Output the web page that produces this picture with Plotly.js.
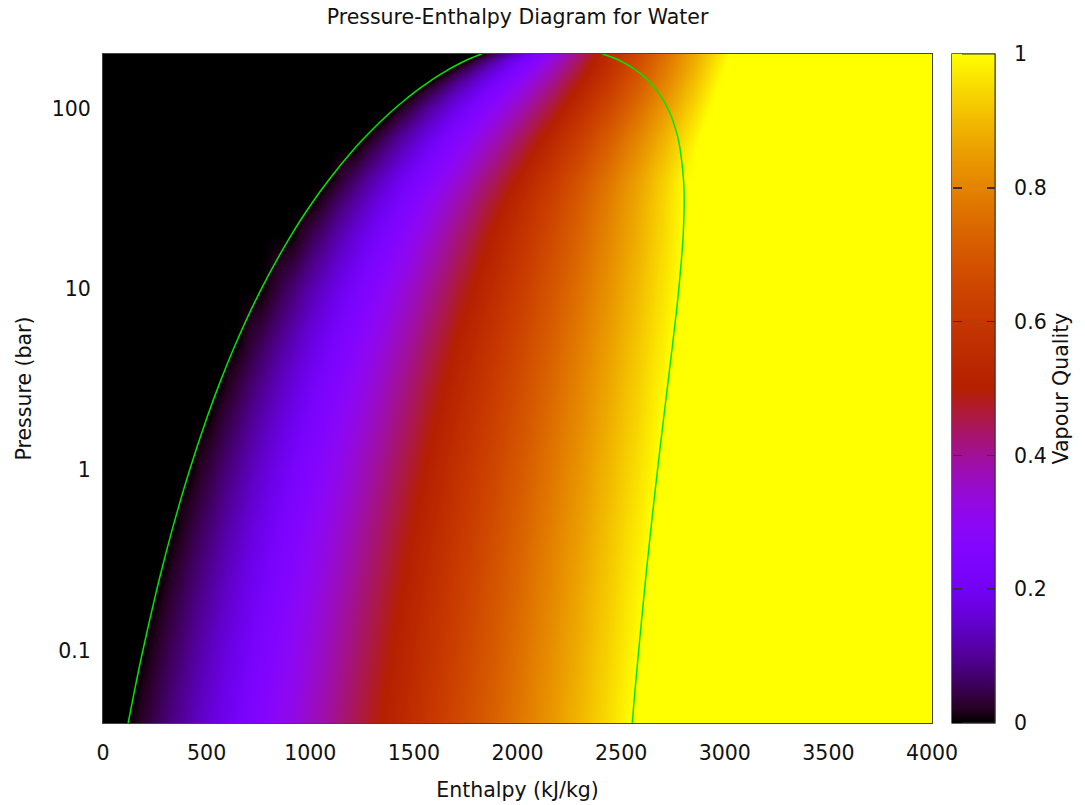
<!DOCTYPE html>
<html>
<head>
<meta charset="utf-8">
<script src="https://cdn.plot.ly/plotly-3.0.1.min.js"></script>
<style>
  html, body { margin: 0; padding: 0; background: #ffffff; }
  #chart { width: 1085px; height: 805px; }
</style>
</head>
<body>
<div id="chart"></div>
<script>
// Saturation data
const satPressure = [0.04, 0.06, 0.1, 0.2, 0.3, 0.5, 1, 2, 3, 5, 10, 20, 30, 40, 60, 70, 80, 90, 100, 110, 120, 130, 140, 150, 160, 170, 180, 190, 200];
const satLiquidH  = [121.4, 151.5, 191.8, 251.4, 289.2, 340.5, 417.5, 504.7, 561.5, 640.2, 762.8, 908.8, 1008.4, 1087.3, 1213.4, 1267.4, 1317.1, 1363.7, 1407.6, 1450.6, 1491.3, 1531.4, 1571.1, 1610.2, 1650.1, 1690.7, 1732.0, 1776.9, 1826.3];
const satVapourH  = [2553.7, 2566.6, 2584.6, 2609.7, 2625.3, 2645.9, 2675.5, 2706.6, 2725.3, 2748.7, 2778.1, 2799.5, 2804.1, 2801.4, 2784.3, 2772.6, 2758.0, 2742.9, 2724.7, 2705.9, 2684.9, 2662.2, 2637.6, 2610.7, 2580.6, 2547.5, 2509.1, 2465.4, 2409.7];

// Colour field knots, per pressure row:
// enthalpy where quality colour is 0 (satLiquidH), 0.5 and 1
const qualityHalfH = [1338, 1360, 1388, 1430, 1457, 1493, 1546, 1606, 1643, 1694, 1775, 1865, 1930, 1990, 2080, 2120, 2155, 2185, 2215, 2240, 2262, 2282, 2300, 2317, 2332, 2346, 2358, 2370, 2380];
const qualityOneH  = [2554, 2567, 2585, 2610, 2625, 2646, 2676, 2707, 2725, 2749, 2778, 2800, 2805, 2815, 2860, 2880, 2900, 2915, 2930, 2945, 2955, 2965, 2975, 2985, 2990, 2998, 3005, 3012, 3020];

const xTickVals = [0, 500, 1000, 1500, 2000, 2500, 3000, 3500, 4000];
const yTickVals = [0.1, 1, 10, 100];
const yTickText = ['0.1', '1', '10', '100'];
const cbTickVals = [0, 0.2, 0.4, 0.6, 0.8, 1];
const cbTickText = ['0', '0.2', '0.4', '0.6', '0.8', '1'];

// sampling grid for the colour field
const hGrid = [];
for (let h = 0; h <= 4000; h += 20) hGrid.push(h);

function qualityAt(h, i) {
  const h0 = satLiquidH[i], h5 = qualityHalfH[i], h1 = qualityOneH[i];
  if (h <= h0) return 0;
  if (h <= h5) return 0.5 * (h - h0) / (h5 - h0);
  if (h <= h1) return 0.5 + 0.5 * (h - h5) / (h1 - h5);
  return 1;
}
const zField = satPressure.map((p, i) => hGrid.map(h => qualityAt(h, i)));

// gnuplot default palette (rgbformulae 7,5,15)
const colorscale = [];
for (let k = 0; k <= 50; k++) {
  const v = k / 50;
  const r = Math.round(255 * Math.sqrt(v));
  const g = Math.round(255 * Math.pow(v, 3));
  const b = Math.round(255 * Math.max(0, Math.sin(2 * Math.PI * v)));
  colorscale.push([v, `rgb(${r},${g},${b})`]);
}

const font = 'DejaVu Sans, sans-serif';
const FS = 20.5;
const txt = { family: font, size: FS, color: '#111' };

const cbCommon = {
  x: 1.024, xanchor: 'left', xpad: 0,
  y: 0.5, yanchor: 'middle', ypad: 0,
  len: 1, lenmode: 'fraction',
  thickness: 43, thicknessmode: 'pixels',
  outlinewidth: 1, outlinecolor: '#333',
  tickvals: cbTickVals, ticktext: cbTickText
};

// invisible marker trace used only to carry an extra colour bar copy
function tickBarTrace(cb) {
  return {
    type: 'scatter', mode: 'markers',
    x: satLiquidH, y: satPressure,
    marker: {
      size: 0, opacity: 0,
      color: satPressure.map(() => 0),
      cmin: 0, cmax: 1, colorscale: colorscale, showscale: true,
      colorbar: Object.assign({}, cbCommon, cb)
    },
    hoverinfo: 'skip', showlegend: false
  };
}

const traces = [
  {
    type: 'heatmap',
    x: hGrid,
    y: satPressure,
    z: zField,
    zmin: 0, zmax: 1,
    zsmooth: 'best',
    colorscale: colorscale,
    hoverinfo: 'skip',
    colorbar: Object.assign({}, cbCommon, {
      ticks: 'outside', ticklen: 15, tickcolor: 'rgba(0,0,0,0)',
      tickfont: txt,
      title: { text: 'Vapour Quality', side: 'right', font: txt }
    })
  },
  {
    type: 'scatter', mode: 'lines',
    x: satLiquidH, y: satPressure,
    line: { color: '#00e600', width: 1.5, shape: 'spline' },
    hoverinfo: 'skip', showlegend: false
  },
  {
    type: 'scatter', mode: 'lines',
    x: satVapourH, y: satPressure,
    line: { color: '#00e600', width: 1.5, shape: 'spline' },
    hoverinfo: 'skip', showlegend: false
  },
  // inner tick marks on the right edge of the colour bar
  tickBarTrace({ ticks: 'inside', ticklen: 8, tickcolor: '#333', tickwidth: 1.5, showticklabels: false }),
  // inner tick marks on the left edge of the colour bar
  tickBarTrace({ thickness: 10, outlinewidth: 0, ticks: 'inside', ticklen: 9, tickcolor: '#333', tickwidth: 1.5, showticklabels: false })
];

const layout = {
  width: 1085, height: 805,
  margin: { l: 103, r: 150, t: 54, b: 82 },
  paper_bgcolor: '#ffffff', plot_bgcolor: '#ffffff',
  showlegend: false,
  font: txt,
  title: {
    text: 'Pressure-Enthalpy Diagram for Water',
    x: 0.5, xref: 'paper', xanchor: 'center',
    y: 1 - 17 / 805, yref: 'container', yanchor: 'middle',
    font: txt
  },
  xaxis: {
    range: [0, 4000],
    tickvals: xTickVals,
    showgrid: false, zeroline: false,
    showline: true, mirror: true, linecolor: '#444', linewidth: 1,
    ticks: '', ticklabelstandoff: 11, tickfont: txt,
    title: { text: 'Enthalpy (kJ/kg)', standoff: 19, font: txt },
    automargin: false
  },
  yaxis: {
    type: 'log',
    range: [Math.log10(0.04), Math.log10(200)],
    tickvals: yTickVals, ticktext: yTickText,
    showgrid: false, zeroline: false,
    showline: true, mirror: true, linecolor: '#444', linewidth: 1,
    ticks: '', ticklabelstandoff: 7, tickfont: txt,
    title: { text: 'Pressure (bar)', standoff: 14, font: txt },
    automargin: false
  }
};

Plotly.newPlot('chart', traces, layout, { displayModeBar: false, staticPlot: true });
</script>
</body>
</html>
